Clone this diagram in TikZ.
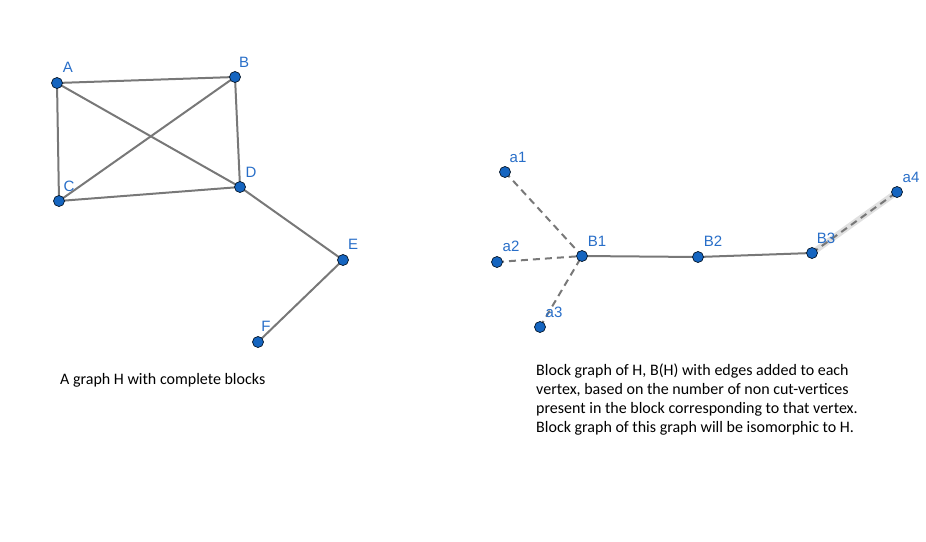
\documentclass[tikz,border=0pt]{standalone}
\usepackage{fontspec}
\setmainfont{Liberation Sans}
\newfontfamily\calfont{Carlito}
\definecolor{ptblue}{RGB}{21,101,192}
\definecolor{ptedge}{RGB}{120,120,120}
\definecolor{lblblue}{RGB}{40,110,200}
\begin{document}
\begin{tikzpicture}[x=1pt,y=-1pt,
  vtx/.style={circle,fill=ptblue,draw=black!80!ptblue,line width=0.7pt,minimum size=11pt,inner sep=0pt},
  lbl/.style={text=lblblue,font=\fontsize{15}{17}\selectfont,inner sep=0pt},
  edge/.style={draw=ptedge,line width=2pt},
  dedge/.style={draw=ptedge,line width=2pt,dash pattern=on 7pt off 5pt},
  captext/.style={font=\calfont\fontsize{16}{19}\selectfont,text=black,inner sep=0pt,align=left}]
\useasboundingbox (0,0) rectangle (926,541);
% graph H
\coordinate (pA) at (57,83);
\coordinate (pB) at (235,77);
\coordinate (pC) at (59,201);
\coordinate (pD) at (240,187);
\coordinate (pE) at (343,260);
\coordinate (pF) at (258,342);
\draw[edge] (pA) -- (pB);
\draw[edge] (pA) -- (pC);
\draw[edge] (pA) -- (pD);
\draw[edge] (pB) -- (pC);
\draw[edge] (pB) -- (pD);
\draw[edge] (pC) -- (pD);
\draw[edge] (pD) -- (pE);
\draw[edge] (pE) -- (pF);
\foreach \n in {A,B,C,D,E,F} \node[vtx] (v\n) at (p\n) {};
\node[lbl] (lA) at (68,67) {A};
\node[lbl] (lB) at (244,62) {B};
\node[lbl] (lC) at (69,186) {C};
\node[lbl] (lD) at (251,172) {D};
\node[lbl] (lE) at (353,244) {E};
\node[lbl] (lF) at (266,326) {F};
% block graph
\coordinate (qa1) at (505,172);
\coordinate (qa2) at (497,262);
\coordinate (qa3) at (540,327);
\coordinate (qB1) at (582,256);
\coordinate (qB2) at (698,257);
\coordinate (qB3) at (812,253);
\coordinate (qa4) at (897,192);
\draw[draw=black!12,line width=6pt] (qB3) -- (qa4);
\draw[dedge] (qa1) -- (qB1);
\draw[dedge] (qa2) -- (qB1);
\draw[dedge] (qa3) -- (qB1);
\draw[dedge] (qB3) -- (qa4);
\draw[edge] (qB1) -- (qB2);
\draw[edge] (qB2) -- (qB3);
\foreach \n in {a1,a2,a3,B1,B2,B3,a4} \node[vtx] (w\n) at (q\n) {};
\node[lbl] (la1) at (518,157) {a1};
\node[lbl] (la2) at (511,246) {a2};
\node[lbl] (la3) at (554,312) {a3};
\node[lbl] (lB1) at (597,241) {B1};
\node[lbl] (lB2) at (713,241) {B2};
\node[lbl] (lB3) at (826,238) {B3};
\node[lbl] (la4) at (911,177) {a4};
% captions
\node[captext,anchor=west] (cap1) at (60,380) {A graph H with complete blocks};
\node[captext,anchor=north west] (cap2) at (536,364) {Block graph of H, B(H) with edges added to each\\vertex, based on the number of non cut-vertices\\present in the block corresponding to that vertex.\\Block graph of this graph will be isomorphic to H.};
\end{tikzpicture}
\end{document}
